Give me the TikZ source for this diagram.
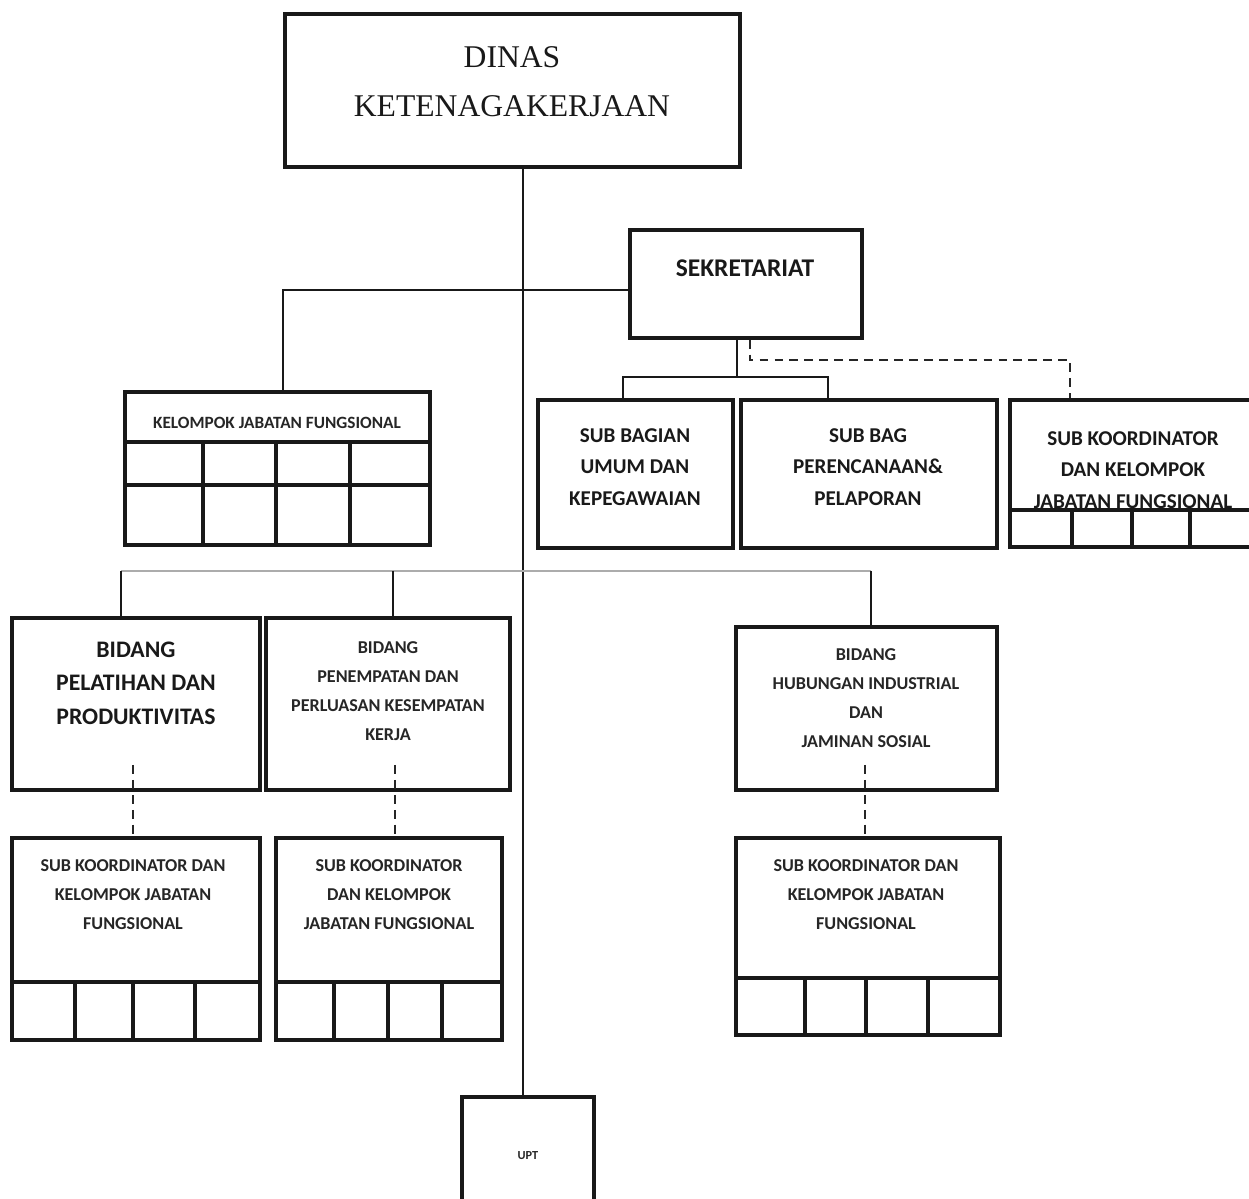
\documentclass[tikz,border=0pt]{standalone}
\usepackage{fontspec}
\setmainfont{Carlito}
\newfontfamily\ttlfont{Liberation Serif}
\usetikzlibrary{calc}

\begin{document}
\begin{tikzpicture}[x=0.02cm, y=-0.02cm,
    box/.style={draw=black!90, line width=2pt, fill=white, inner sep=0pt},
    cell/.style={draw=black!90, line width=1.8pt},
    conn/.style={draw=black!90, line width=1.6pt},
    bus/.style={draw=gray!65, line width=1.6pt},
    dashln/.style={draw=black!85, line width=1.5pt, dash pattern=on 5pt off 3.5pt},
    txt/.style={align=center, text=black!90, font=\bfseries\fontsize{12}{18}\selectfont},
    small/.style={align=center, text=black!85, font=\bfseries\fontsize{10.3}{16.5}\selectfont},
]
\clip (0,0) rectangle (1249,1199);

% top level
\node[box, minimum width=9.1cm, minimum height=3.06cm] (dinas) at (512.5,90.5) {};
\node[align=center, text=black!90, font=\ttlfont\fontsize{18}{28}\selectfont] (dinas-t) at (512,82) {DINAS\\KETENAGAKERJAAN};

\node[box, minimum width=4.64cm, minimum height=2.16cm] (sekr) at (746,284) {};
\node[txt, font=\bfseries\fontsize{14.5}{18}\selectfont] (sekr-t) at (745,268) {SEKRETARIAT};

% kelompok jabatan fungsional
\node[box, minimum width=6.1cm, minimum height=3.06cm] (kjf) at (277.5,468.5) {};
\node[small, font=\bfseries\fontsize{9.8}{12}\selectfont] (kjf-t) at (277,423) {KELOMPOK JABATAN FUNGSIONAL};
\draw[cell] (125,442) -- (430,442);
\draw[cell] (125,485) -- (430,485);
\foreach \x in {203,276,350} \draw[cell] (\x,442) -- (\x,545);

% bawah sekretariat
\node[box, minimum width=3.9cm, minimum height=2.96cm] (umum) at (635.5,474) {};
\node[txt] (umum-t) at (635,467) {SUB BAGIAN\\UMUM DAN\\KEPEGAWAIAN};

\node[box, minimum width=5.12cm, minimum height=2.96cm] (perenc) at (869,474) {};
\node[txt] (perenc-t) at (868,467) {SUB BAG\\PERENCANAAN\&\\PELAPORAN};

\node[box, minimum width=5.04cm, minimum height=2.94cm] (koord) at (1136,473.5) {};
\node[txt] (koord-t) at (1133,470) {SUB KOORDINATOR\\DAN KELOMPOK\\JABATAN FUNGSIONAL};
\draw[cell] (1010,510) -- (1262,510);
\foreach \x in {1072,1132,1190} \draw[cell] (\x,510) -- (\x,547);

% bidang
\node[box, minimum width=4.96cm, minimum height=3.44cm] (pel) at (136,704) {};
\node[txt, font=\bfseries\fontsize{13.5}{19}\selectfont] (pel-t) at (136,683) {BIDANG\\PELATIHAN DAN\\PRODUKTIVITAS};

\node[box, minimum width=4.88cm, minimum height=3.44cm] (pen) at (388,704) {};
\node[small] (pen-t) at (388,691) {BIDANG\\PENEMPATAN DAN\\PERLUASAN KESEMPATAN\\KERJA};

\node[box, minimum width=5.22cm, minimum height=3.26cm] (hub) at (866.5,708.5) {};
\node[small] (hub-t) at (866,698) {BIDANG\\HUBUNGAN INDUSTRIAL\\DAN\\JAMINAN SOSIAL};

% sub koordinator
\node[box, minimum width=4.96cm, minimum height=4.04cm] (skA) at (136,939) {};
\node[small] (skA-t) at (133,895) {SUB KOORDINATOR DAN\\KELOMPOK JABATAN\\FUNGSIONAL};
\draw[cell] (12,982) -- (260,982);
\foreach \x in {75,133,195} \draw[cell] (\x,982) -- (\x,1041);

\node[box, minimum width=4.52cm, minimum height=4.04cm] (skB) at (389,939) {};
\node[small] (skB-t) at (389,895) {SUB KOORDINATOR\\DAN KELOMPOK\\JABATAN FUNGSIONAL};
\draw[cell] (276,982) -- (502,982);
\foreach \x in {334,388,442} \draw[cell] (\x,982) -- (\x,1041);

\node[box, minimum width=5.28cm, minimum height=3.94cm] (skC) at (868,936.5) {};
\node[small] (skC-t) at (866,895) {SUB KOORDINATOR DAN\\KELOMPOK JABATAN\\FUNGSIONAL};
\draw[cell] (736,978) -- (1000,978);
\foreach \x in {805,866,928} \draw[cell] (\x,978) -- (\x,1035);

\node[box, minimum width=2.64cm, minimum height=2.36cm, font=\bfseries\fontsize{7}{8}\selectfont, text=black!85] (upt) at (528,1156) {UPT};

% garis
\coordinate (trunk) at (523,0);
\draw[conn] (dinas.south -| trunk) -- (upt.north -| trunk);

\coordinate (kjfj) at (283,290);
\draw[conn] (kjfj |- kjf.north) -- (kjfj) -- (kjfj -| sekr.west);

\coordinate (sekj) at (737,377);
\coordinate (sekL) at (623,377);
\coordinate (sekR) at (828,377);
\draw[conn] (sekr.south -| sekj) -- (sekj);
\draw[conn] (sekL |- umum.north) -- (sekL) -- (sekR) -- (sekR |- perenc.north);

\coordinate (dsh) at (750,360);
\coordinate (dshR) at (1070,360);
\draw[dashln] (sekr.south -| dsh) -- (dsh) -- (dshR) -- (dshR |- koord.north);

\coordinate (busL) at (121,571);
\coordinate (busM) at (393,571);
\coordinate (busR) at (871,571);
\draw[bus] (busL) -- (busR);
\draw[conn] (busL) -- (busL |- pel.north);
\draw[conn] (busM) -- (busM |- pen.north);
\draw[conn] (busR) -- (busR |- hub.north);

\foreach \m/\x in {skA/133, skB/395, skC/865} {
    \coordinate (d) at (\x,765);
    \draw[dashln] (d) -- (d |- \m.north);
}
\end{tikzpicture}
\end{document}
